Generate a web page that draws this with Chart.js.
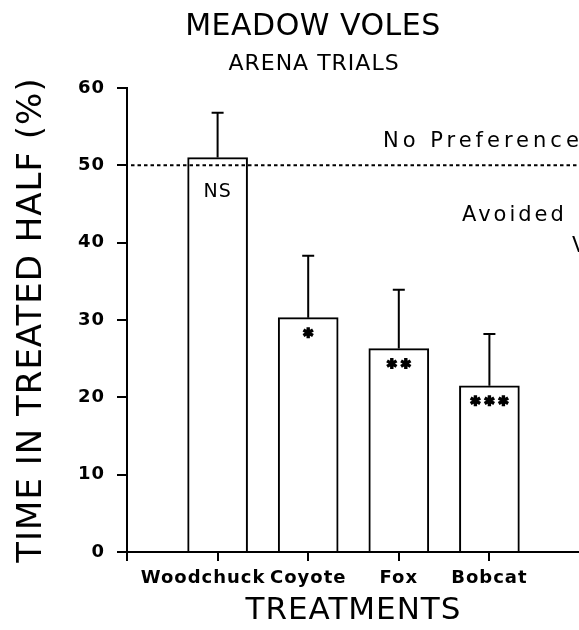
<!DOCTYPE html>
<html>
<head>
<meta charset="utf-8">
<script src="https://cdn.jsdelivr.net/npm/chart.js@4/dist/chart.umd.min.js"></script>
<style>
  html, body { margin: 0; padding: 0; background: #fff; overflow: hidden; }
  #wrap { width: 579px; height: 630px; overflow: hidden; }
</style>
</head>
<body>
<div id="wrap"><canvas id="chart" width="587" height="630"></canvas></div>
<script>
// ---- data ----
const treatments = ['Woodchuck', 'Coyote', 'Fox', 'Bobcat'];
const timeInTreated = [51.0, 30.3, 26.3, 21.5];   // mean % time in treated half
const errorUp = [5.8, 8.0, 7.6, 6.7];             // upper error bar length
const significance = ['NS', '*', '**', '***'];
const yTicks = [0, 10, 20, 30, 40, 50, 60];
const noPreference = 50;

// empty slot at each end so the axis starts one step left of Woodchuck
const labels = [''].concat(treatments, ['']);
const values = [null].concat(timeInTreated, [null]);

const FONT = '"DejaVu Sans", "Liberation Sans", sans-serif';

function drawStar(ctx, x, y, r) {
    ctx.beginPath();
    for (let k = 0; k < 3; k++) {
        const a = Math.PI / 2 + k * Math.PI / 3;
        ctx.moveTo(x + r * Math.cos(a), y + r * Math.sin(a));
        ctx.lineTo(x - r * Math.cos(a), y - r * Math.sin(a));
    }
    ctx.stroke();
}

function drawText(ctx, text, x, y, size, spacing, align, weight) {
    ctx.save();
    ctx.font = (weight || 'normal') + ' ' + size + 'px ' + FONT;
    ctx.letterSpacing = spacing + 'px';
    ctx.fillStyle = '#000';
    ctx.textAlign = align || 'left';
    ctx.textBaseline = 'alphabetic';
    ctx.fillText(text, x, y);
    ctx.restore();
}

// the original lettering is widely spaced
const spacingPlugin = {
    id: 'spacing',
    beforeLayout(chart) { chart.ctx.letterSpacing = '1px'; },
    beforeDraw(chart) { chart.ctx.letterSpacing = '1px'; }
};

const annotations = {
    id: 'annotations',
    afterDatasetsDraw(chart) {
        const ctx = chart.ctx;
        const y = chart.scales.y;
        const area = chart.chartArea;
        const meta = chart.getDatasetMeta(0);

        // no preference line
        const y50 = y.getPixelForValue(noPreference);
        ctx.save();
        ctx.strokeStyle = '#000';
        ctx.lineWidth = 2;
        ctx.setLineDash([3.5, 3]);
        ctx.beginPath();
        ctx.moveTo(area.left + 4, y50);
        ctx.lineTo(area.right + 10, y50);
        ctx.stroke();
        ctx.restore();

        // error bars and significance marks
        ctx.save();
        ctx.strokeStyle = '#000';
        ctx.lineWidth = 2;
        treatments.forEach((t, i) => {
            const bar = meta.data[i + 1];
            const top = y.getPixelForValue(timeInTreated[i] + errorUp[i]);
            ctx.beginPath();
            ctx.moveTo(bar.x, bar.y);
            ctx.lineTo(bar.x, top);
            ctx.moveTo(bar.x - 6, top);
            ctx.lineTo(bar.x + 6, top);
            ctx.stroke();

            const sig = significance[i];
            if (sig === 'NS') {
                drawText(ctx, sig, bar.x, bar.y + 39, 19, 1, 'center');
            } else {
                ctx.save();
                ctx.lineWidth = 3.4;
                const n = sig.length;
                for (let k = 0; k < n; k++) {
                    drawStar(ctx, bar.x + (k - (n - 1) / 2) * 14, bar.y + 15, 5.5);
                }
                ctx.restore();
            }
        });
        ctx.restore();

        // side notes
        drawText(ctx, 'No Preference', 383, y50 - 18, 21, 4);
        drawText(ctx, 'Avoided', 462, y50 + 56, 21, 3);
        drawText(ctx, 'V', 572, y50 + 87, 21, 0);

        // titles
        drawText(ctx, 'MEADOW VOLES', 313, 35, 30, 0.5, 'center');
        drawText(ctx, 'ARENA TRIALS', 314, 70, 22, 1, 'center');
    }
};

new Chart(document.getElementById('chart'), {
    type: 'bar',
    data: {
        labels: labels,
        datasets: [{
            data: values,
            backgroundColor: '#fff',
            borderColor: '#000',
            borderWidth: 2,
            borderSkipped: 'bottom',
            barThickness: 60
        }]
    },
    options: {
        responsive: false,
        animation: false,
        events: [],
        layout: { padding: { top: 88, right: 0, bottom: 0, left: 0 } },
        plugins: {
            legend: { display: false },
            tooltip: { enabled: false }
        },
        scales: {
            x: {
                offset: false,
                grid: {
                    offset: false,
                    drawOnChartArea: false,
                    color: '#000',
                    lineWidth: 2,
                    tickLength: 9
                },
                border: { color: '#000', width: 2 },
                ticks: {
                    autoSkip: false,
                    maxRotation: 0,
                    padding: 7,
                    color: '#000',
                    font: { family: FONT, size: 18, weight: 'bold' },
                    // the long first name sits left of its tick in the original
                    callback: (v, i) => i === 1 ? labels[i] + '    ' : labels[i]
                },
                title: {
                    display: true,
                    text: 'TREATMENTS',
                    color: '#000',
                    padding: { top: 0, bottom: 0 },
                    font: { family: FONT, size: 31 }
                },
                afterFit(scale) { scale.height = 78; }
            },
            y: {
                min: 0,
                max: 60,
                afterBuildTicks(scale) { scale.ticks = yTicks.map(v => ({ value: v })); },
                grid: {
                    drawOnChartArea: false,
                    color: '#000',
                    lineWidth: 2,
                    tickLength: 10
                },
                border: { color: '#000', width: 2 },
                ticks: {
                    padding: 12,
                    color: '#000',
                    font: { family: FONT, size: 18, weight: 'bold' }
                },
                title: {
                    display: true,
                    text: 'TIME IN TREATED HALF (%)',
                    color: '#000',
                    padding: { top: 12, bottom: 0 },
                    font: { family: FONT, size: 34 }
                },
                afterFit(scale) { scale.width = 127; }
            }
        }
    },
    plugins: [spacingPlugin, annotations]
});
</script>
</body>
</html>
